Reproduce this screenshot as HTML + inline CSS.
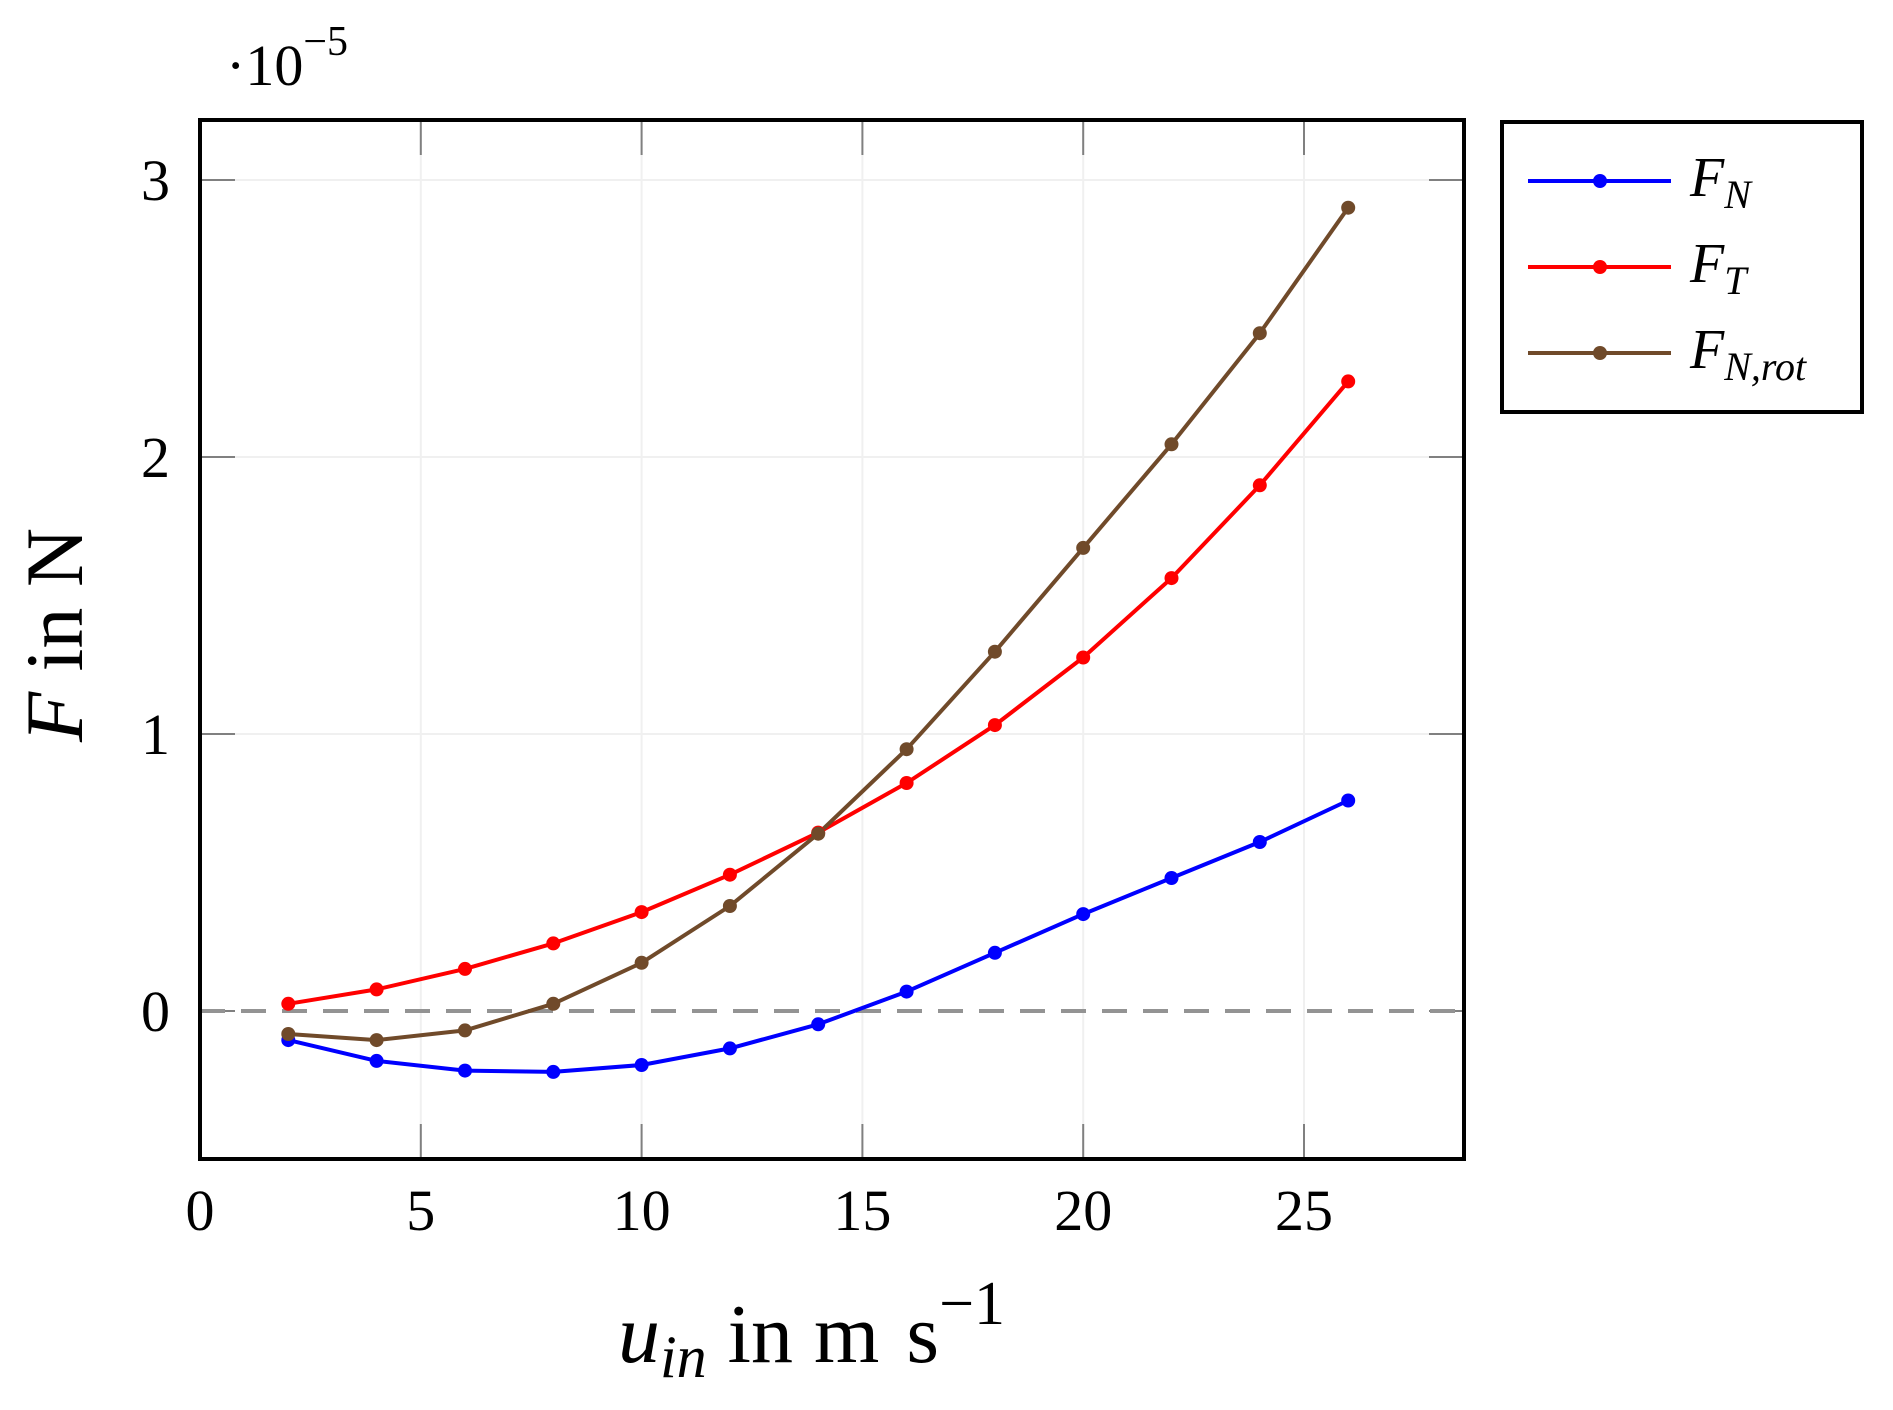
<!DOCTYPE html>
<html><head><meta charset="utf-8"><style>
html,body{margin:0;padding:0;background:#fff;}
svg{display:block;}
text{font-family:"Liberation Serif",serif;fill:#000;}
</style></head><body>
<svg width="1893" height="1410" viewBox="0 0 1893 1410" xmlns="http://www.w3.org/2000/svg">
<g stroke="#f0f0f0" stroke-width="2">
<line x1="420.8" y1="120" x2="420.8" y2="1159"/>
<line x1="641.6" y1="120" x2="641.6" y2="1159"/>
<line x1="862.4" y1="120" x2="862.4" y2="1159"/>
<line x1="1083.2" y1="120" x2="1083.2" y2="1159"/>
<line x1="1304" y1="120" x2="1304" y2="1159"/>
<line x1="200" y1="180" x2="1464" y2="180"/>
<line x1="200" y1="457" x2="1464" y2="457"/>
<line x1="200" y1="734" x2="1464" y2="734"/>
</g>
<g stroke="#808080" stroke-width="2">
<line x1="420.8" y1="1159" x2="420.8" y2="1124"/><line x1="420.8" y1="120" x2="420.8" y2="155"/>
<line x1="641.6" y1="1159" x2="641.6" y2="1124"/><line x1="641.6" y1="120" x2="641.6" y2="155"/>
<line x1="862.4" y1="1159" x2="862.4" y2="1124"/><line x1="862.4" y1="120" x2="862.4" y2="155"/>
<line x1="1083.2" y1="1159" x2="1083.2" y2="1124"/><line x1="1083.2" y1="120" x2="1083.2" y2="155"/>
<line x1="1304" y1="1159" x2="1304" y2="1124"/><line x1="1304" y1="120" x2="1304" y2="155"/>
<line x1="200" y1="180" x2="235" y2="180"/><line x1="1464" y1="180" x2="1429" y2="180"/>
<line x1="200" y1="457" x2="235" y2="457"/><line x1="1464" y1="457" x2="1429" y2="457"/>
<line x1="200" y1="734" x2="235" y2="734"/><line x1="1464" y1="734" x2="1429" y2="734"/>
<line x1="200" y1="1011" x2="235" y2="1011"/><line x1="1464" y1="1011" x2="1429" y2="1011"/>
</g>
<line x1="200" y1="1011" x2="1464" y2="1011" stroke="#939393" stroke-width="4" stroke-dasharray="25,16"/>
<g fill="none" stroke-width="4" stroke-linejoin="round">
<polyline stroke="#0000ff" points="288.3,1040.1 376.6,1060.9 465,1070.6 553.3,1071.9 641.6,1065 729.9,1048.4 818.2,1024.3 906.6,991.6 994.9,952.8 1083.2,914.1 1171.5,878 1259.8,842 1348.2,800.5"/>
<polyline stroke="#ff0000" points="288.3,1003.8 376.6,989.4 465,968.9 553.3,943.4 641.6,912.1 729.9,874.7 818.2,832.6 906.6,783 994.9,725.1 1083.2,657.5 1171.5,578.1 1259.8,485.3 1348.2,381.4"/>
<polyline stroke="#704a2a" points="288.3,1034 376.6,1040.1 465,1030.4 553.3,1003.8 641.6,962.8 729.9,906 818.2,833.7 906.6,749.2 994.9,651.7 1083.2,547.9 1171.5,444.3 1259.8,333.2 1348.2,207.7"/>
</g>
<g fill="#0000ff">
<circle cx="288.3" cy="1040.1" r="7"/><circle cx="376.6" cy="1060.9" r="7"/><circle cx="465" cy="1070.6" r="7"/><circle cx="553.3" cy="1071.9" r="7"/><circle cx="641.6" cy="1065" r="7"/><circle cx="729.9" cy="1048.4" r="7"/><circle cx="818.2" cy="1024.3" r="7"/><circle cx="906.6" cy="991.6" r="7"/><circle cx="994.9" cy="952.8" r="7"/><circle cx="1083.2" cy="914.1" r="7"/><circle cx="1171.5" cy="878" r="7"/><circle cx="1259.8" cy="842" r="7"/><circle cx="1348.2" cy="800.5" r="7"/>
</g>
<g fill="#ff0000">
<circle cx="288.3" cy="1003.8" r="7"/><circle cx="376.6" cy="989.4" r="7"/><circle cx="465" cy="968.9" r="7"/><circle cx="553.3" cy="943.4" r="7"/><circle cx="641.6" cy="912.1" r="7"/><circle cx="729.9" cy="874.7" r="7"/><circle cx="818.2" cy="832.6" r="7"/><circle cx="906.6" cy="783" r="7"/><circle cx="994.9" cy="725.1" r="7"/><circle cx="1083.2" cy="657.5" r="7"/><circle cx="1171.5" cy="578.1" r="7"/><circle cx="1259.8" cy="485.3" r="7"/><circle cx="1348.2" cy="381.4" r="7"/>
</g>
<g fill="#704a2a">
<circle cx="288.3" cy="1034" r="7"/><circle cx="376.6" cy="1040.1" r="7"/><circle cx="465" cy="1030.4" r="7"/><circle cx="553.3" cy="1003.8" r="7"/><circle cx="641.6" cy="962.8" r="7"/><circle cx="729.9" cy="906" r="7"/><circle cx="818.2" cy="833.7" r="7"/><circle cx="906.6" cy="749.2" r="7"/><circle cx="994.9" cy="651.7" r="7"/><circle cx="1083.2" cy="547.9" r="7"/><circle cx="1171.5" cy="444.3" r="7"/><circle cx="1259.8" cy="333.2" r="7"/><circle cx="1348.2" cy="207.7" r="7"/>
</g>
<rect x="200" y="120" width="1264" height="1039" fill="none" stroke="#000" stroke-width="4"/>
<g font-size="58" text-anchor="middle">
<text x="200" y="1230">0</text><text x="420.8" y="1230">5</text><text x="641.6" y="1230">10</text><text x="862.4" y="1230">15</text><text x="1083.2" y="1230">20</text><text x="1304" y="1230">25</text>
</g>
<g font-size="58" text-anchor="end">
<text x="170" y="200">3</text><text x="170" y="477">2</text><text x="170" y="754">1</text><text x="170" y="1031">0</text>
</g>
<text x="226" y="85" font-size="58">·10<tspan font-size="42" dy="-30">−5</tspan></text>
<text x="618" y="1362" font-size="84"><tspan font-style="italic">u</tspan><tspan font-style="italic" font-size="60" dy="15">in</tspan><tspan dy="-15"> in m</tspan><tspan dx="6"> s</tspan><tspan font-size="62" dy="-38">−1</tspan></text>
<text transform="translate(82,635) rotate(-90)" font-size="82" text-anchor="middle"><tspan font-style="italic">F</tspan> in N</text>
<rect x="1502" y="122" width="360" height="290" fill="#fff" stroke="#000" stroke-width="4"/>
<line x1="1528" y1="181" x2="1671" y2="181" stroke="#0000ff" stroke-width="4"/><circle cx="1600" cy="181" r="7" fill="#0000ff"/>
<line x1="1528" y1="267" x2="1671" y2="267" stroke="#ff0000" stroke-width="4"/><circle cx="1600" cy="267" r="7" fill="#ff0000"/>
<line x1="1528" y1="353" x2="1671" y2="353" stroke="#704a2a" stroke-width="4"/><circle cx="1600" cy="353" r="7" fill="#704a2a"/>
<g font-size="56" font-style="italic">
<text x="1690" y="196">F<tspan font-size="40" dy="12">N</tspan></text>
<text x="1690" y="282">F<tspan font-size="40" dy="12">T</tspan></text>
<text x="1690" y="368">F<tspan font-size="40" dy="12">N,rot</tspan></text>
</g>
</svg>
</body></html>
